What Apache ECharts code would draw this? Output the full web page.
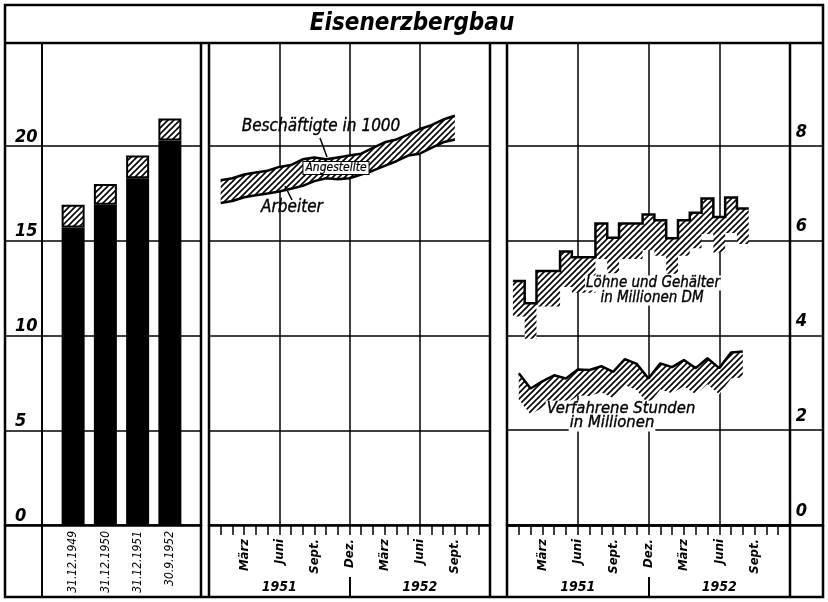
<!DOCTYPE html>
<html>
<head>
<meta charset="utf-8">
<title>Eisenerzbergbau</title>
<script src="https://cdn.jsdelivr.net/npm/echarts@6/dist/echarts.min.js"></script>
<style>
  html, body { margin: 0; padding: 0; background: #fff; }
  #chart { width: 828px; height: 602px; }
</style>
</head>
<body>
<div id="chart"></div>
<script>
// Beschäftigte in 1000, Stichtage
const barDates = ['31.12.1949', '31.12.1950', '31.12.1951', '30.9.1952'];
const barArbeiter = [15.7, 16.9, 18.3, 20.3];
const barAngestellte = [1.2, 1.1, 1.2, 1.15];

// Beschäftigte monatlich (Monatsende), in 1000
const bandMonths = ['1951-01', '1951-02', '1951-03', '1951-04', '1951-05', '1951-06', '1951-07',
  '1951-08', '1951-09', '1951-10', '1951-11', '1951-12', '1952-01', '1952-02', '1952-03',
  '1952-04', '1952-05', '1952-06', '1952-07', '1952-08', '1952-09'];
const bandArbeiter = [17.0, 17.1, 17.3, 17.4, 17.5, 17.6, 17.75, 17.9, 18.15, 18.3, 18.25,
  18.3, 18.5, 18.7, 18.95, 19.2, 19.5, 19.6, 19.9, 20.2, 20.35];
const bandBeschaeftigte = [18.2, 18.3, 18.5, 18.6, 18.7, 18.9, 19.0, 19.3, 19.4, 19.3, 19.4,
  19.5, 19.6, 19.9, 20.2, 20.35, 20.6, 20.9, 21.1, 21.4, 21.6];

// Löhne und Gehälter (Mio DM), Verfahrene Stunden (Mio)
const lohnMonths = ['1951-01', '1951-02', '1951-03', '1951-04', '1951-05', '1951-06', '1951-07',
  '1951-08', '1951-09', '1951-10', '1951-11', '1951-12', '1952-01', '1952-02', '1952-03',
  '1952-04', '1952-05', '1952-06', '1952-07', '1952-08'];
const lohnValues = [5.15, 4.68, 5.36, 5.36, 5.77, 5.65, 5.65, 6.36, 6.06, 6.36, 6.36, 6.55,
  6.43, 6.05, 6.43, 6.59, 6.89, 6.5, 6.91, 6.68];
const stundenValues = [3.2, 2.88, 3.03, 3.16, 3.09, 3.28, 3.27, 3.35, 3.23, 3.5, 3.4, 3.09,
  3.41, 3.33, 3.48, 3.31, 3.52, 3.31, 3.64, 3.66];

const monthTicks = ['', 'März', 'Juni', 'Sept.', 'Dez.', 'März', 'Juni', 'Sept.', ''];
const years = ['1951', '1952'];
const leftTickLabels = ['0', '5', '10', '15', '20'];
const rightTickLabels = ['0', '2', '4', '6', '8'];

const FONT = '"DejaVu Sans Condensed", "Liberation Sans Narrow", "DejaVu Sans", sans-serif';
const INK = '#000';
const CLEAR = 'rgba(0,0,0,0)';

function monthIndex(s) {
  const p = s.split('-').map(Number);
  return (p[0] - 1951) * 12 + p[1];
}

function hatch(size, lw) {
  const c = document.createElement('canvas');
  c.width = c.height = size;
  const g = c.getContext('2d');
  g.fillStyle = '#fff';
  g.fillRect(0, 0, size, size);
  g.strokeStyle = INK;
  g.lineWidth = lw;
  g.beginPath();
  g.moveTo(-1, size + 1); g.lineTo(size + 1, -1);
  g.moveTo(-size / 2 - 1, size / 2 + 1); g.lineTo(size / 2 + 1, -size / 2 - 1);
  g.moveTo(size / 2 - 1, size * 1.5 + 1); g.lineTo(size * 1.5 + 1, size / 2 - 1);
  g.stroke();
  return { image: c, repeat: 'repeat' };
}
const HATCH = hatch(6, 1.6);

const LEFT_MAX = 25.44;   // top of frame in 1000
const RIGHT_MAX = 10.17;

const numLabel = { fontFamily: FONT, fontStyle: 'italic', fontWeight: 'bold', fontSize: 18, color: INK };

function monthAxis(gridIndex) {
  return {
    type: 'value', gridIndex, min: 0, max: 24, interval: 3,
    axisLine: { show: true, lineStyle: { color: INK, width: 2.5 } },
    axisTick: { show: true, length: 10, lineStyle: { color: INK, width: 1.5 } },
    minorTick: { show: true, splitNumber: 3, length: 10, lineStyle: { color: INK, width: 1.5 } },
    splitLine: { show: true, lineStyle: { color: [INK, CLEAR], width: 1.5 } },
    axisLabel: {
      rotate: 90, margin: 14, fontFamily: FONT, fontStyle: 'italic', fontWeight: 'bold',
      fontSize: 13, color: INK, formatter: v => monthTicks[Math.round(v / 3)] || ''
    }
  };
}

function yearAxis(gridIndex) {
  return {
    type: 'category', gridIndex, data: years, position: 'bottom', offset: 72,
    axisLine: { show: false },
    axisTick: { show: true, inside: true, length: 20, lineStyle: { color: INK, width: 2 } },
    axisLabel: { inside: true, margin: 3, fontFamily: FONT, fontStyle: 'italic', fontWeight: 'bold', fontSize: 14, color: INK },
    splitLine: { show: false }
  };
}

function frameY(gridIndex, max, interval, pos, labels, margin, pad) {
  return {
    type: 'value', gridIndex, min: 0, max, interval, position: pos,
    axisLine: { show: false }, axisTick: { show: false },
    splitLine: { show: true, lineStyle: { color: [INK, INK, INK, INK, INK, CLEAR, CLEAR], width: 1.5 } },
    axisLabel: labels ? Object.assign({
      inside: true, margin, verticalAlign: 'bottom', padding: [0, 0, pad, 0],
      formatter: v => labels.indexOf(String(v)) >= 0 ? String(v) : ''
    }, numLabel) : { show: false }
  };
}

function hiddenX(gridIndex) {
  return {
    type: 'value', gridIndex, min: 0, max: 1,
    axisLine: { show: true, lineStyle: { color: INK, width: 2.5 } },
    axisTick: { show: false }, axisLabel: { show: false }, splitLine: { show: false }
  };
}

// value first, month second: so the stack runs on the value dimension
const lineBase = { type: 'line', symbol: 'none', silent: true, encode: { x: 1, y: 0 } };

const bandX = bandMonths.map(monthIndex);
const lohnX = lohnMonths.map(monthIndex);
const LOHN_BAND = 0.75;
const STUNDEN_BAND = 0.55;

// Löhne as steps: each month's value held for one month, centred on the month end
const lohnSteps = [];
lohnX.forEach((m, i) => {
  lohnSteps.push([m - 0.5, lohnValues[i]]);
  lohnSteps.push([m + 0.5, lohnValues[i]]);
});

const annot = (text, x, y, size, extra) => ({
  type: 'text', z: 100, x, y,
  style: Object.assign({
    text, font: 'italic ' + size + 'px ' + FONT, fill: INK, stroke: INK, lineWidth: 0.35,
    align: 'center', verticalAlign: 'middle'
  }, extra || {})
});
const whiteBox = { backgroundColor: '#fff', padding: [0, 1] };
const rule = (x1, y1, x2, y2, w) => ({
  type: 'line', z: 100, shape: { x1, y1, x2, y2 }, style: { stroke: INK, lineWidth: w }
});

const option = {
  animation: false,
  backgroundColor: '#fff',
  grid: [
    { left: 5, top: 43, width: 196, height: 482 },    // left frame
    { left: 57, top: 43, width: 129, height: 482 },   // bars
    { left: 209, top: 43, width: 281, height: 482 },  // Beschäftigte monthly
    { left: 507, top: 43, width: 316, height: 482 },  // right frame
    { left: 507, top: 43, width: 283, height: 482 }   // Löhne / Stunden
  ],
  xAxis: [
    hiddenX(0),
    {
      type: 'category', gridIndex: 1, data: barDates,
      axisLine: { show: false }, axisTick: { show: false },
      axisLabel: { interval: 0, rotate: 90, margin: 6, fontFamily: FONT, fontStyle: 'italic', fontSize: 12, color: INK }
    },
    monthAxis(2),
    yearAxis(2),
    hiddenX(3),
    monthAxis(4),
    yearAxis(4)
  ],
  yAxis: [
    frameY(0, LEFT_MAX, 5, 'left', leftTickLabels, 10, 0),
    { type: 'value', gridIndex: 1, min: 0, max: LEFT_MAX, show: false },
    frameY(2, LEFT_MAX, 5, 'left', null),
    frameY(3, RIGHT_MAX, 2, 'right', rightTickLabels, 16, 5),
    { type: 'value', gridIndex: 4, min: 0, max: RIGHT_MAX, show: false }
  ],
  series: [
    {
      name: 'Arbeiter', type: 'bar', xAxisIndex: 1, yAxisIndex: 1, stack: 'b', barWidth: 23,
      itemStyle: { color: INK }, data: barArbeiter
    },
    {
      name: 'Angestellte', type: 'bar', xAxisIndex: 1, yAxisIndex: 1, stack: 'b', barWidth: 23,
      itemStyle: { color: HATCH, borderColor: INK, borderWidth: 2 }, data: barAngestellte
    },
    Object.assign({}, lineBase, {
      name: 'Arbeiter monatlich', xAxisIndex: 2, yAxisIndex: 2, stack: 'band',
      lineStyle: { color: INK, width: 2.5 },
      data: bandX.map((m, i) => [bandArbeiter[i], m])
    }),
    Object.assign({}, lineBase, {
      name: 'Angestellte monatlich', xAxisIndex: 2, yAxisIndex: 2, stack: 'band',
      lineStyle: { color: INK, width: 2.5 }, areaStyle: { color: HATCH, opacity: 1 },
      data: bandX.map((m, i) => [bandBeschaeftigte[i] - bandArbeiter[i], m])
    }),
    Object.assign({}, lineBase, {
      name: 'Löhne Basis', xAxisIndex: 5, yAxisIndex: 4, stack: 'lohn',
      lineStyle: { opacity: 0 },
      data: lohnSteps.map(p => [p[1] - LOHN_BAND, p[0]])
    }),
    Object.assign({}, lineBase, {
      name: 'Löhne und Gehälter', xAxisIndex: 5, yAxisIndex: 4, stack: 'lohn',
      lineStyle: { color: INK, width: 2.5, join: 'miter' }, areaStyle: { color: HATCH, opacity: 1 },
      data: lohnSteps.map(p => [LOHN_BAND, p[0]])
    }),
    Object.assign({}, lineBase, {
      name: 'Stunden Basis', xAxisIndex: 5, yAxisIndex: 4, stack: 'std',
      lineStyle: { opacity: 0 },
      data: lohnX.map((m, i) => [stundenValues[i] - STUNDEN_BAND, m])
    }),
    Object.assign({}, lineBase, {
      name: 'Verfahrene Stunden', xAxisIndex: 5, yAxisIndex: 4, stack: 'std',
      lineStyle: { color: INK, width: 2.5 }, areaStyle: { color: HATCH, opacity: 1 },
      data: lohnX.map(m => [STUNDEN_BAND, m])
    })
  ],
  graphic: [
    { type: 'rect', z: 100, shape: { x: 5, y: 5, width: 818, height: 592 }, style: { fill: 'none', stroke: INK, lineWidth: 2.5 } },
    rule(5, 43, 823, 43, 2.5),
    rule(42, 43, 42, 597, 2),
    rule(201, 43, 201, 597, 2.5),
    rule(209, 43, 209, 597, 2.5),
    rule(490, 43, 490, 597, 2.5),
    rule(507, 43, 507, 597, 2.5),
    rule(790, 43, 790, 597, 2.5),
    {
      type: 'text', z: 100, x: 412, y: 24,
      style: { text: 'Eisenerzbergbau', font: 'italic bold 24px ' + FONT, fill: INK, align: 'center', verticalAlign: 'middle' }
    },
    annot('Beschäftigte in 1000', 321, 127, 17),
    rule(320, 138, 327, 157, 1.5),
    annot('Angestellte', 336, 168, 12, {
      backgroundColor: '#fff', borderColor: INK, borderWidth: 1, padding: [0, 2, 0, 2], lineWidth: 0.2
    }),
    rule(285, 186, 292, 200, 1.5),
    annot('Arbeiter', 292, 208, 17),
    annot('Löhne und Gehälter', 653, 283, 15, whiteBox),
    annot('in Millionen DM', 652, 298, 15, whiteBox),
    annot('Verfahrene Stunden', 621, 409, 16.5, whiteBox),
    annot('in Millionen', 612, 423, 16.5, whiteBox)
  ]
};

const chart = echarts.init(document.getElementById('chart'), null, { renderer: 'canvas' });
chart.setOption(option);
window.addEventListener('resize', () => chart.resize());
</script>
</body>
</html>
